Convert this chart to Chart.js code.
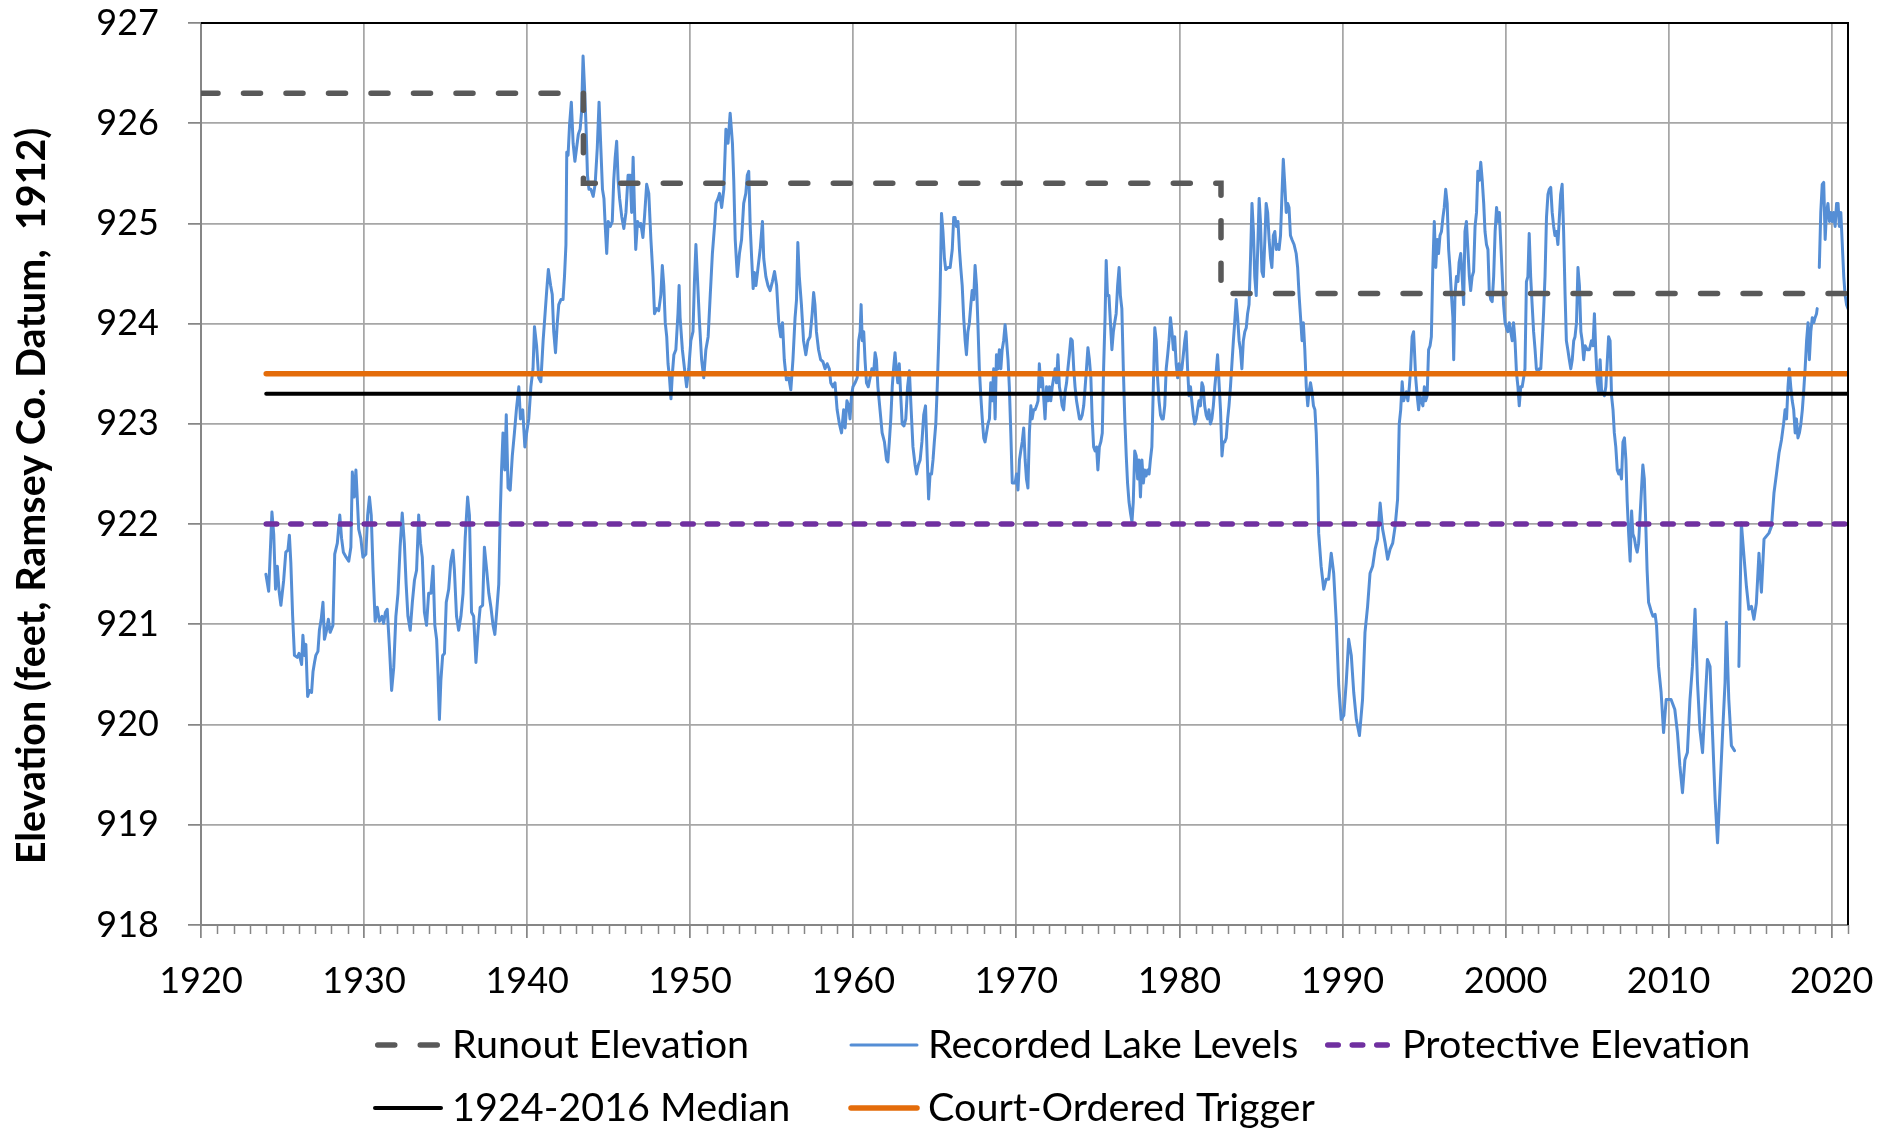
<!DOCTYPE html>
<html>
<head>
<meta charset="utf-8">
<title>Recorded Lake Levels</title>
<script src="https://cdn.jsdelivr.net/npm/chart.js@4.4.1/dist/chart.umd.min.js"></script>
<style>
  html, body { margin: 0; padding: 0; background: #fff; }
  #wrap { width: 1884px; height: 1131px; }
</style>
</head>
<body>
<div id="wrap"><canvas id="levelsChart" width="1884" height="1131"></canvas></div>
<script>
// Recorded lake levels (year, elevation in feet); null = gap in record
const lakeYears = [
  1923.98,1924.15,1924.35,1924.46,1924.57,1924.68,1924.79,1924.90,1925.07,1925.20,
  1925.33,1925.42,1925.51,1925.62,1925.73,1925.90,1926.01,1926.17,1926.25,1926.34,
  1926.43,1926.54,1926.65,1926.78,1926.87,1926.96,1927.04,1927.17,1927.26,1927.37,
  1927.48,1927.57,1927.70,1927.81,1927.92,1928.09,1928.20,1928.36,1928.51,1928.62,
  1928.73,1928.90,1929.06,1929.19,1929.28,1929.39,1929.50,1929.58,1929.67,1929.80,
  1929.93,1930.11,1930.22,1930.33,1930.44,1930.55,1930.68,1930.81,1930.94,1931.10,
  1931.20,1931.31,1931.42,1931.56,1931.69,1931.82,1931.95,1932.08,1932.21,1932.34,
  1932.47,1932.58,1932.69,1932.83,1932.96,1933.09,1933.22,1933.35,1933.46,1933.57,
  1933.70,1933.83,1933.96,1934.10,1934.23,1934.34,1934.45,1934.53,1934.62,1934.71,
  1934.82,1934.93,1935.04,1935.19,1935.32,1935.45,1935.54,1935.67,1935.80,1935.94,
  1936.07,1936.20,1936.35,1936.46,1936.59,1936.72,1936.86,1936.99,1937.12,1937.27,
  1937.38,1937.52,1937.65,1937.78,1937.91,1938.02,1938.13,1938.26,1938.35,1938.43,
  1938.52,1938.63,1938.72,1938.83,1938.96,1939.09,1939.22,1939.35,1939.49,1939.59,
  1939.73,1939.86,1939.97,1940.10,1940.23,1940.36,1940.45,1940.58,1940.71,1940.84,
  1940.98,1941.06,1941.20,1941.30,1941.44,1941.54,1941.63,1941.74,1941.85,1941.94,
  1942.07,1942.20,1942.29,1942.38,1942.43,1942.51,1942.60,1942.71,1942.82,1942.93,
  1943.03,1943.14,1943.25,1943.34,1943.43,1943.52,1943.61,1943.70,1943.79,1943.91,
  1944.05,1944.17,1944.30,1944.41,1944.52,1944.62,1944.71,1944.79,1944.88,1944.97,
  1945.10,1945.22,1945.31,1945.40,1945.49,1945.58,1945.67,1945.80,1945.93,1946.06,
  1946.19,1946.32,1946.41,1946.50,1946.59,1946.66,1946.77,1946.91,1946.97,1947.10,
  1947.20,1947.33,1947.46,1947.59,1947.72,1947.81,1947.94,1948.07,1948.20,1948.29,
  1948.38,1948.47,1948.56,1948.64,1948.73,1948.82,1948.91,1949.00,1949.12,1949.25,
  1949.32,1949.38,1949.52,1949.65,1949.78,1949.91,1950.04,1950.17,1950.26,1950.35,
  1950.44,1950.57,1950.70,1950.83,1950.96,1951.10,1951.23,1951.36,1951.49,1951.58,
  1951.71,1951.80,1951.93,1952.06,1952.19,1952.32,1952.45,1952.59,1952.67,1952.76,
  1952.89,1953.02,1953.15,1953.28,1953.41,1953.50,1953.59,1953.68,1953.77,1953.86,
  1953.94,1954.03,1954.16,1954.29,1954.43,1954.51,1954.64,1954.77,1954.90,1955.04,
  1955.17,1955.30,1955.43,1955.55,1955.66,1955.77,1955.90,1956.04,1956.17,1956.30,
  1956.43,1956.52,1956.60,1956.69,1956.82,1956.95,1957.09,1957.22,1957.35,1957.48,
  1957.57,1957.65,1957.74,1957.87,1958.00,1958.14,1958.27,1958.40,1958.53,1958.62,
  1958.75,1958.88,1959.01,1959.15,1959.28,1959.41,1959.50,1959.61,1959.72,1959.80,
  1959.89,1959.98,1960.11,1960.24,1960.33,1960.42,1960.48,1960.55,1960.64,1960.72,
  1960.81,1960.92,1961.03,1961.14,1961.25,1961.34,1961.42,1961.51,1961.64,1961.77,
  1961.91,1962.04,1962.12,1962.21,1962.30,1962.39,1962.47,1962.56,1962.64,1962.73,
  1962.82,1962.91,1963.00,1963.11,1963.22,1963.33,1963.44,1963.55,1963.66,1963.79,
  1963.88,1963.99,1964.10,1964.21,1964.32,1964.43,1964.54,1964.62,1964.71,1964.80,
  1964.89,1964.97,1965.06,1965.15,1965.24,1965.32,1965.41,1965.50,1965.59,1965.67,
  1965.80,1965.94,1966.07,1966.16,1966.24,1966.33,1966.42,1966.51,1966.59,1966.68,
  1966.77,1966.86,1966.94,1967.03,1967.12,1967.21,1967.29,1967.38,1967.47,1967.56,
  1967.64,1967.73,1967.82,1967.91,1968.00,1968.08,1968.17,1968.26,1968.35,1968.43,
  1968.52,1968.61,1968.70,1968.78,1968.87,1968.96,1969.05,1969.13,1969.22,1969.31,
  1969.40,1969.49,1969.57,1969.66,1969.75,1969.84,1969.93,1970.01,1970.10,1970.19,
  1970.27,1970.36,1970.45,1970.54,1970.62,1970.71,1970.80,1970.89,1970.97,1971.06,
  1971.15,1971.24,1971.33,1971.41,1971.50,1971.59,1971.67,1971.76,1971.85,1971.94,
  1972.03,1972.11,1972.20,1972.29,1972.38,1972.46,1972.55,1972.64,1972.73,1972.81,
  1972.90,1972.99,1973.08,1973.16,1973.25,1973.34,1973.43,1973.52,1973.60,1973.69,
  1973.78,1973.87,1973.95,1974.04,1974.13,1974.22,1974.30,1974.39,1974.48,1974.57,
  1974.65,1974.74,1974.83,1974.92,1975.00,1975.09,1975.18,1975.27,1975.35,1975.44,
  1975.51,1975.59,1975.68,1975.77,1975.86,1975.95,1976.03,1976.12,1976.21,1976.30,
  1976.38,1976.47,1976.56,1976.65,1976.74,1976.82,1976.91,1977.00,1977.09,1977.17,
  1977.26,1977.35,1977.44,1977.52,1977.61,1977.70,1977.79,1977.87,1977.96,1978.05,
  1978.14,1978.22,1978.31,1978.40,1978.49,1978.58,1978.66,1978.75,1978.84,1978.93,
  1979.01,1979.10,1979.19,1979.28,1979.36,1979.45,1979.54,1979.63,1979.71,1979.80,
  1979.89,1979.98,1980.06,1980.15,1980.24,1980.33,1980.41,1980.50,1980.59,1980.68,
  1980.76,1980.85,1980.94,1981.03,1981.11,1981.20,1981.29,1981.38,1981.46,1981.55,
  1981.64,1981.73,1981.81,1981.90,1981.99,1982.08,1982.17,1982.25,1982.34,1982.43,
  1982.52,1982.61,1982.69,1982.78,1982.87,1982.96,1983.04,1983.13,1983.22,1983.31,
  1983.39,1983.48,1983.57,1983.66,1983.74,1983.83,1983.92,1984.01,1984.10,1984.18,
  1984.27,1984.36,1984.45,1984.54,1984.62,1984.71,1984.80,1984.89,1984.97,1985.06,
  1985.15,1985.24,1985.32,1985.41,1985.50,1985.59,1985.67,1985.76,1985.85,1985.94,
  1986.02,1986.11,1986.20,1986.29,1986.37,1986.46,1986.55,1986.64,1986.72,1986.81,
  1986.90,1987.03,1987.16,1987.25,1987.34,1987.43,1987.52,1987.60,1987.69,1987.78,
  1987.87,1987.95,1988.04,1988.13,1988.22,1988.31,1988.39,1988.48,1988.54,1988.69,
  1988.85,1989.00,1989.15,1989.31,1989.46,1989.62,1989.77,1989.92,1990.08,1990.23,
  1990.38,1990.54,1990.69,1990.85,1991.04,1991.23,1991.38,1991.54,1991.69,1991.85,
  1992.00,1992.15,1992.31,1992.46,1992.62,1992.77,1992.92,1993.08,1993.23,1993.38,
  1993.48,1993.57,1993.66,1993.75,1993.83,1993.92,1994.01,1994.10,1994.18,1994.27,
  1994.36,1994.40,1994.49,1994.58,1994.67,1994.75,1994.84,1994.93,1995.02,1995.10,
  1995.19,1995.28,1995.37,1995.45,1995.54,1995.63,1995.72,1995.81,1995.89,1995.98,
  1996.07,1996.16,1996.24,1996.33,1996.42,1996.51,1996.59,1996.68,1996.77,1996.82,
  1996.90,1996.99,1997.08,1997.15,1997.25,1997.34,1997.43,1997.51,1997.60,1997.69,
  1997.78,1997.86,1997.95,1998.04,1998.13,1998.22,1998.30,1998.39,1998.48,1998.57,
  1998.66,1998.74,1998.83,1998.92,1999.00,1999.09,1999.18,1999.27,1999.36,1999.45,
  1999.53,1999.62,1999.71,1999.80,1999.88,1999.97,2000.05,2000.14,2000.23,2000.32,
  2000.41,2000.49,2000.58,2000.67,2000.76,2000.84,2000.93,2001.02,2001.11,2001.19,
  2001.28,2001.37,2001.45,2001.54,2001.63,2001.72,2001.81,2001.89,2001.98,2002.07,
  2002.16,2002.25,2002.33,2002.42,2002.51,2002.60,2002.68,2002.77,2002.86,2002.95,
  2003.03,2003.12,2003.21,2003.30,2003.38,2003.47,2003.56,2003.65,2003.73,2003.82,
  2003.91,2004.00,2004.09,2004.18,2004.26,2004.35,2004.44,2004.53,2004.62,2004.70,
  2004.79,2004.88,2005.01,2005.14,2005.27,2005.36,2005.45,2005.53,2005.62,2005.71,
  2005.80,2005.89,2005.97,2006.06,2006.15,2006.23,2006.32,2006.41,2006.50,2006.59,
  2006.67,2006.76,2006.85,2006.94,2007.03,2007.11,2007.20,2007.29,2007.38,2007.46,
  2007.55,2007.64,2007.73,2007.81,2007.90,2007.99,2008.07,2008.16,2008.25,2008.34,
  2008.42,2008.51,2008.60,2008.68,2008.77,2008.86,2008.95,2009.04,2009.17,2009.26,
  2009.38,2009.54,2009.69,2009.85,2010.00,2010.15,2010.38,2010.54,2010.69,2010.85,
  2011.00,2011.15,2011.31,2011.46,2011.62,2011.77,2011.92,2012.08,2012.23,2012.38,
  2012.54,2012.69,2012.85,2013.00,2013.15,2013.31,2013.46,2013.54,2013.69,2013.85,
  2014.04,2014.18,2014.31,2014.46,2014.62,2014.77,2014.92,2015.08,2015.23,2015.38,
  2015.54,2015.69,2015.85,2016.00,2016.15,2016.31,2016.46,2016.62,2016.77,2016.92,
  2017.05,2017.14,2017.23,2017.32,2017.40,2017.49,2017.58,2017.67,2017.76,2017.84,
  2017.93,2018.02,2018.11,2018.20,2018.28,2018.37,2018.46,2018.55,2018.63,2018.72,
  2018.81,2018.90,2018.98,2019.07,2019.11,2019.17,2019.24,2019.33,2019.42,2019.51,
  2019.60,2019.68,2019.77,2019.86,2019.95,2020.04,2020.12,2020.21,2020.30,2020.39,
  2020.47,2020.56,2020.65,2020.74,2020.82,2020.91,2021.00
];
const lakeLevels = [
  921.50,921.33,922.12,921.90,921.35,921.58,921.33,921.19,921.44,921.72,
  921.74,921.89,921.61,921.08,920.69,920.67,920.71,920.60,920.89,920.69,
  920.80,920.28,920.34,920.32,920.53,920.62,920.69,920.73,920.94,921.05,
  921.22,920.85,920.94,921.05,920.92,920.99,921.70,921.81,922.09,921.86,
  921.72,921.67,921.63,921.77,922.52,922.27,922.54,922.27,921.95,921.86,
  921.67,921.70,922.09,922.27,922.09,921.54,921.03,921.17,921.03,921.08,
  921.01,921.12,921.15,920.76,920.34,920.57,921.08,921.31,921.77,922.11,
  921.81,921.40,921.08,920.94,921.22,921.44,921.54,922.09,921.81,921.67,
  921.12,920.99,921.31,921.31,921.58,920.99,920.85,920.53,920.05,920.44,
  920.69,920.71,921.22,921.35,921.63,921.74,921.54,921.08,920.94,921.08,
  921.31,921.86,922.27,922.09,921.12,921.08,920.62,920.94,921.17,921.19,
  921.77,921.54,921.31,921.17,920.99,920.90,921.12,921.40,922.09,922.54,
  922.91,922.54,923.09,922.36,922.34,922.68,922.91,923.16,923.37,923.05,
  923.14,922.77,922.91,923.05,923.37,923.55,923.97,923.78,923.46,923.42,
  923.83,924.01,924.33,924.54,924.38,924.29,923.92,923.71,924.01,924.19,
  924.24,924.24,924.47,924.79,925.71,925.68,925.98,926.21,925.80,925.62,
  925.75,925.89,925.94,926.12,926.67,926.35,925.98,925.48,925.34,925.34,
  925.27,925.39,925.75,926.21,925.75,925.34,925.25,924.97,924.70,925.02,
  924.97,925.02,925.43,925.66,925.82,925.43,925.25,925.07,924.95,925.11,
  925.48,925.48,925.11,925.66,925.11,924.74,925.02,924.97,925.00,924.86,
  925.07,925.39,925.30,924.84,924.47,924.10,924.15,924.13,924.29,924.58,
  924.38,924.01,923.87,923.60,923.46,923.25,923.51,923.69,923.74,924.10,
  924.38,924.06,923.74,923.55,923.37,923.55,923.83,923.92,924.42,924.79,
  924.47,924.01,923.64,923.46,923.74,923.87,924.29,924.70,924.97,925.20,
  925.25,925.30,925.16,925.34,925.94,925.80,926.10,925.80,925.43,924.84,
  924.47,924.70,924.84,925.20,925.30,925.48,925.52,924.97,924.65,924.35,
  924.51,924.38,924.56,924.74,925.02,924.65,924.47,924.38,924.33,924.42,
  924.52,924.38,924.01,923.87,924.01,923.64,923.44,923.46,923.34,923.64,
  924.06,924.24,924.81,924.47,924.19,923.83,923.69,923.83,923.87,924.10,
  924.31,924.19,923.92,923.74,923.64,923.62,923.55,923.60,923.55,923.41,
  923.37,923.41,923.14,923.00,922.91,923.14,922.96,923.23,923.18,923.05,
  923.28,923.37,923.41,923.46,923.83,923.92,924.19,923.83,923.92,923.64,
  923.41,923.37,923.46,923.55,923.51,923.71,923.64,923.37,923.14,922.91,
  922.82,922.64,922.62,922.82,923.05,923.37,923.55,923.71,923.55,923.41,
  923.60,923.28,923.00,922.98,923.05,923.37,923.53,923.14,922.77,922.59,
  922.50,922.59,922.64,922.82,923.09,923.18,922.64,922.25,922.50,922.50,
  922.64,922.82,923.00,923.37,923.83,924.28,925.10,924.92,924.65,924.54,
  924.56,924.56,924.74,925.06,925.06,924.97,925.02,924.74,924.56,924.38,
  924.06,923.83,923.69,923.92,924.01,924.19,924.33,924.24,924.58,924.38,
  924.01,923.55,923.28,923.05,922.86,922.82,922.91,923.00,923.05,923.41,
  923.23,923.55,923.05,923.69,923.55,923.74,923.55,923.74,923.83,923.99,
  923.83,923.64,923.37,922.91,922.41,922.41,922.41,922.50,922.34,922.64,
  922.73,922.82,922.96,922.64,922.45,922.36,922.91,923.18,923.05,923.14,
  923.14,923.18,923.23,923.60,923.37,923.46,923.28,923.05,923.37,923.23,
  923.37,923.23,923.37,923.46,923.55,923.41,923.69,923.37,923.28,923.18,
  923.14,923.32,923.41,923.55,923.69,923.85,923.83,923.55,923.37,923.23,
  923.14,923.05,923.05,923.09,923.18,923.37,923.55,923.76,923.64,923.46,
  923.05,922.77,922.73,922.77,922.54,922.77,922.82,922.91,923.55,924.06,
  924.63,924.28,924.28,924.01,923.74,923.92,924.01,924.10,924.38,924.56,
  924.28,924.15,923.55,923.05,922.68,922.41,922.22,922.11,922.02,922.22,
  922.73,922.68,922.45,922.64,922.27,922.64,922.41,922.54,922.48,922.54,
  922.50,922.64,922.77,923.37,923.96,923.83,923.46,923.23,923.09,923.05,
  923.05,923.18,923.55,923.69,923.83,924.06,923.92,923.74,923.87,923.60,
  923.46,923.60,923.51,923.55,923.69,923.83,923.92,923.55,923.28,923.37,
  923.23,923.09,923.00,923.05,923.14,923.23,923.18,923.41,923.37,923.18,
  923.09,923.05,923.14,923.00,923.05,923.18,923.37,923.51,923.69,923.41,
  923.14,922.68,922.82,922.82,922.86,923.05,923.18,923.37,923.60,923.83,
  924.01,924.24,924.06,923.83,923.74,923.55,923.83,923.92,923.96,924.10,
  924.19,924.65,925.20,924.92,924.47,924.28,924.74,925.25,925.02,924.52,
  924.47,924.84,925.20,925.11,924.84,924.65,924.56,924.88,924.92,924.74,
  924.79,924.74,924.88,925.29,925.64,925.39,925.11,925.20,925.16,924.88,
  924.84,924.79,924.70,924.56,924.28,924.06,923.83,924.01,923.74,923.37,
  923.18,923.32,923.41,923.32,923.18,923.14,922.91,922.45,921.91,921.58,
  921.35,921.45,921.45,921.71,921.51,921.02,920.39,920.05,920.09,920.42,
  920.85,920.69,920.32,920.05,919.89,920.25,920.92,921.18,921.51,921.58,
  921.75,921.85,922.21,921.95,921.81,921.65,921.75,921.81,921.98,922.25,
  923.00,923.14,923.42,923.23,923.28,923.32,923.23,923.37,923.55,923.87,
  923.92,923.78,923.46,923.28,923.14,923.28,923.23,923.18,923.37,923.23,
  923.28,923.74,923.78,923.87,924.56,925.02,924.56,924.84,924.70,924.88,
  924.92,925.06,925.16,925.34,925.20,924.74,924.56,924.29,924.06,923.64,
  924.29,924.47,924.42,924.61,924.70,924.47,924.19,924.92,925.02,924.74,
  924.47,924.33,924.47,924.52,924.97,925.11,925.52,925.43,925.61,925.43,
  925.20,924.92,924.79,924.74,924.33,924.24,924.22,924.47,924.92,925.16,
  925.02,925.11,924.79,924.47,924.19,924.01,923.96,923.92,924.01,923.92,
  923.83,924.01,923.83,923.51,923.37,923.18,923.37,923.37,923.46,923.55,
  924.42,924.47,924.90,924.47,924.19,923.92,923.74,923.55,923.51,923.55,
  923.55,923.83,924.10,924.47,925.06,925.29,925.34,925.36,925.11,924.97,
  924.88,924.92,924.79,925.06,925.29,925.39,924.92,924.29,923.83,923.74,
  923.64,923.55,923.64,923.83,923.87,924.01,924.56,924.38,923.92,923.83,
  923.64,923.78,923.74,923.74,923.83,923.78,924.10,923.74,923.42,923.32,
  923.64,923.32,923.32,923.28,923.37,923.60,923.87,923.83,923.28,923.14,
  922.91,922.77,922.54,922.50,922.54,922.45,922.82,922.86,922.64,922.22,
  921.90,921.63,922.13,921.90,921.86,921.77,921.72,921.81,922.09,922.36,
  922.59,922.45,921.99,921.54,921.22,921.17,921.12,921.08,921.10,920.99,
  920.58,920.32,919.92,920.25,920.25,920.25,920.15,919.92,919.59,919.32,
  919.65,919.72,920.25,920.58,921.15,920.42,919.95,919.72,920.19,920.65,
  920.58,919.92,919.26,918.82,919.35,919.92,920.42,921.02,920.25,919.79,
  919.74,null,920.58,922.01,921.68,921.38,921.15,921.18,921.05,921.21,
  921.71,921.32,921.85,921.88,921.91,921.98,922.31,922.51,922.71,922.84,
  923.00,923.14,923.05,923.37,923.55,923.37,923.23,923.14,922.91,923.05,
  922.86,922.91,923.00,923.14,923.32,923.55,923.83,924.01,923.64,923.92,
  924.06,924.01,924.06,924.10,924.15,null,924.56,925.11,925.39,925.41,
  924.84,925.11,925.20,925.02,925.11,925.02,925.11,924.97,925.20,925.20,
  924.97,925.11,924.79,924.47,924.29,924.19,924.15
];

// Runout elevation steps
const runoutYears = [1920, 1943.45, 1943.45, 1982.55, 1982.55, 2021];
const runoutLevels = [926.3, 926.3, 925.4, 925.4, 924.3, 924.3];

// Reference elevations, drawn from 1924 to the end of the axis
const referenceYears = [1924, 2021];
const medianLevels = [923.3, 923.3];
const triggerLevels = [923.5, 923.5];
const protectiveLevels = [922, 922];

const seriesLabels = ['Runout Elevation', 'Recorded Lake Levels', 'Protective Elevation', '1924-2016 Median', 'Court-Ordered Trigger'];
const yAxisTitle = 'Elevation (feet, Ramsey Co. Datum,  1912)';
const yMin = 918, yMax = 927;
const xMin = 1920, xMax = 2021;

const FONT = 'Lato, "Open Sans", sans-serif';
const TICK_GRAY = '#868686';
const GRID_GRAY = '#a6a6a6';

function toPoints(xs, ys) {
    return xs.map((x, i) => ({ x: x, y: ys[i] }));
}

// Frame, minor year ticks, rotated axis title and the two-row legend
const decorations = {
    id: 'decorations',
    afterDraw(chart) {
        const { ctx, chartArea: area, scales: { x } } = chart;
        ctx.save();

        // minor ticks for every year
        ctx.strokeStyle = TICK_GRAY;
        ctx.lineWidth = 1.5;
        for (let yr = xMin; yr <= xMax; yr++) {
            if (yr % 10 === 0) continue;
            const px = Math.round(x.getPixelForValue(yr)) + 0.5;
            ctx.beginPath();
            ctx.moveTo(px, area.bottom);
            ctx.lineTo(px, area.bottom + 9);
            ctx.stroke();
        }

        // black top and right frame
        ctx.strokeStyle = '#000';
        ctx.lineWidth = 2;
        ctx.beginPath();
        ctx.moveTo(area.left, area.top);
        ctx.lineTo(area.right, area.top);
        ctx.lineTo(area.right, area.bottom);
        ctx.stroke();

        // y axis title
        ctx.save();
        ctx.translate(32, 496);
        ctx.rotate(-Math.PI / 2);
        ctx.font = 'bold 39.5px ' + FONT;
        ctx.fillStyle = '#000';
        ctx.textAlign = 'center';
        ctx.textBaseline = 'middle';
        ctx.fillText(yAxisTitle, 0, 0);
        ctx.restore();

        // legend
        const slots = [
            { ds: 0, x: 375, y: 1045 },
            { ds: 1, x: 851, y: 1045 },
            { ds: 2, x: 1325, y: 1045 },
            { ds: 3, x: 375, y: 1108 },
            { ds: 4, x: 851, y: 1108 }
        ];
        slots.forEach(s => {
            const d = chart.data.datasets[s.ds];
            ctx.save();
            ctx.strokeStyle = d.borderColor;
            ctx.lineWidth = d.borderWidth;
            ctx.lineCap = d.borderCapStyle || 'butt';
            ctx.setLineDash(d.borderDash || []);
            const inset = d.borderDash ? d.borderWidth / 2 : 0;
            ctx.beginPath();
            ctx.moveTo(s.x + inset, s.y);
            ctx.lineTo(s.x + 66 - inset, s.y);
            ctx.stroke();
            ctx.restore();
            ctx.font = '39.5px ' + FONT;
            ctx.fillStyle = '#000';
            ctx.textAlign = 'left';
            ctx.textBaseline = 'middle';
            ctx.fillText(d.label, s.x + 77, s.y);
        });

        ctx.restore();
    }
};

const ctx = document.getElementById('levelsChart').getContext('2d');
new Chart(ctx, {
    type: 'line',
    data: {
        datasets: [
            {
                label: seriesLabels[0],
                data: toPoints(runoutYears, runoutLevels),
                borderColor: '#595959',
                borderWidth: 5.5,
                borderDash: [17, 25.5],
                borderCapStyle: 'round',
                order: 2
            },
            {
                label: seriesLabels[1],
                data: toPoints(lakeYears, lakeLevels),
                borderColor: '#558ed5',
                borderWidth: 3,
                borderJoinStyle: 'round',
                borderCapStyle: 'round',
                order: 5
            },
            {
                label: seriesLabels[2],
                data: toPoints(referenceYears, protectiveLevels),
                borderColor: '#7030a0',
                borderWidth: 5.5,
                borderDash: [10.5, 14],
                borderCapStyle: 'round',
                order: 0
            },
            {
                label: seriesLabels[3],
                data: toPoints(referenceYears, medianLevels),
                borderColor: '#000000',
                borderWidth: 4,
                borderCapStyle: 'round',
                order: 3
            },
            {
                label: seriesLabels[4],
                data: toPoints(referenceYears, triggerLevels),
                borderColor: '#e46c0a',
                borderWidth: 5.5,
                borderCapStyle: 'round',
                order: 1
            }
        ]
    },
    options: {
        responsive: false,
        animation: false,
        devicePixelRatio: 1,
        events: [],
        layout: { padding: { left: 0, right: 36, top: 23, bottom: 126 } },
        elements: {
            point: { radius: 0 },
            line: { tension: 0, fill: false }
        },
        plugins: {
            legend: { display: false },
            tooltip: { enabled: false }
        },
        scales: {
            x: {
                type: 'linear',
                min: xMin,
                max: xMax,
                afterFit: scale => {
                    scale.height = 80;
                    scale.paddingLeft = 0;
                    scale.paddingRight = 0;
                },
                ticks: {
                    stepSize: 1,
                    autoSkip: false,
                    maxRotation: 0,
                    padding: 22,
                    color: '#000',
                    font: { family: FONT, size: 36 },
                    callback: v => (v % 10 === 0 ? String(v) : '')
                },
                grid: {
                    color: c => (c.tick && c.tick.value % 10 === 0 && c.tick.value < xMax ? GRID_GRAY : 'rgba(0,0,0,0)'),
                    tickColor: c => (c.tick && c.tick.value % 10 === 0 ? TICK_GRAY : 'rgba(0,0,0,0)'),
                    lineWidth: 1.75,
                    tickLength: 13
                },
                border: { color: TICK_GRAY, width: 2 }
            },
            y: {
                min: yMin,
                max: yMax,
                afterFit: scale => {
                    scale.width = 201;
                    scale.paddingTop = 0;
                    scale.paddingBottom = 0;
                },
                ticks: {
                    stepSize: 1,
                    padding: 29,
                    color: '#000',
                    font: { family: FONT, size: 36 },
                    callback: v => String(v)
                },
                grid: {
                    color: GRID_GRAY,
                    tickColor: TICK_GRAY,
                    lineWidth: 1.75,
                    tickLength: 13
                },
                border: { color: TICK_GRAY, width: 2 }
            }
        }
    },
    plugins: [decorations]
});
</script>
</body>
</html>
